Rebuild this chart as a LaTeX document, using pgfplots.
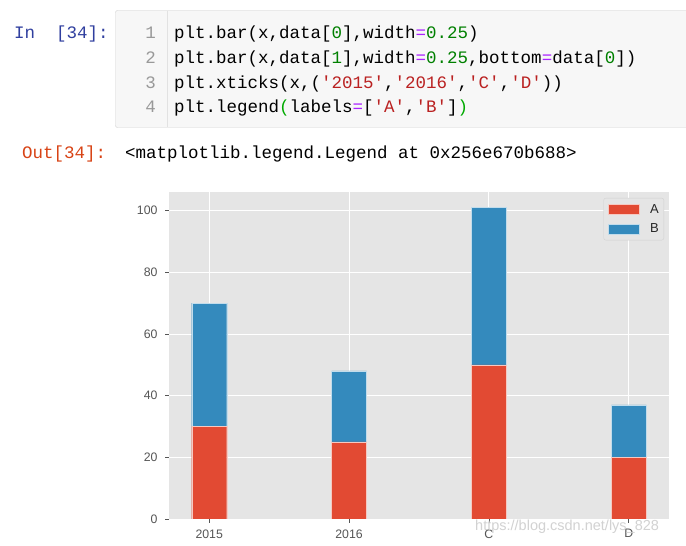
\documentclass[border=0pt]{standalone}
\usepackage{fontspec}
\setmainfont{Liberation Sans}
\newfontfamily\codefont{Liberation Mono}
\usepackage{pgfplots}
\pgfplotsset{compat=1.18}
\definecolor{barA}{HTML}{E24A33}
\definecolor{barB}{HTML}{348ABD}
\definecolor{axbg}{HTML}{E5E5E5}
\definecolor{tickc}{HTML}{555555}
\definecolor{codebg}{HTML}{F7F7F7}
\definecolor{codebd}{HTML}{CFCFCF}
\definecolor{inc}{HTML}{303F9F}
\definecolor{outc}{HTML}{D84315}
\definecolor{cnum}{HTML}{008000}
\definecolor{cop}{HTML}{AA22FF}
\definecolor{cstr}{HTML}{BA2121}
\definecolor{lnum}{HTML}{999999}
\definecolor{cbr}{HTML}{00AA00}
\begin{document}
\begin{tikzpicture}
\begin{scope}[x=1pt,y=1pt]
\fill[white] (0,0) rectangle (686,546);
\clip (0,0) rectangle (686,546);
\coordinate (axsw) at (169,27);
% code cell
\filldraw[fill=codebg, draw=codebd, rounded corners=2pt] (115.5,535.5) rectangle (700,418.5);
\draw[draw=codebd!60] (167.5,535) -- (167.5,419);
\node[anchor=base west, inner sep=0, text=inc, font=\codefont\fontsize{17.5}{20}\selectfont] at (14,507) {In\ \ [34]:};
\node[anchor=base west, inner sep=0, text=outc, font=\codefont\fontsize{17.5}{20}\selectfont] at (22,387) {Out[34]:};
\begin{scope}[every node/.style={anchor=base east, inner sep=0, text=lnum, font=\codefont\fontsize{17.5}{20}\selectfont}]
\node at (156,507) {1};
\node at (156,482) {2};
\node at (156,457) {3};
\node at (156,433) {4};
\end{scope}
\begin{scope}[every node/.style={anchor=base west, inner sep=0, text=black, font=\codefont\fontsize{17.5}{20}\selectfont}]
\node at (174,507) {plt.bar(x,data[\textcolor{cnum}{0}],width\textcolor{cop}{=}\textcolor{cnum}{0.25})};
\node at (174,482) {plt.bar(x,data[\textcolor{cnum}{1}],width\textcolor{cop}{=}\textcolor{cnum}{0.25},bottom\textcolor{cop}{=}data[\textcolor{cnum}{0}])};
\node at (174,457) {plt.xticks(x,(\textcolor{cstr}{'2015'},\textcolor{cstr}{'2016'},\textcolor{cstr}{'C'},\textcolor{cstr}{'D'}))};
\node at (174,433) {plt.legend\textcolor{cbr}{(}labels\textcolor{cop}{=}[\textcolor{cstr}{'A'},\textcolor{cstr}{'B'}]\textcolor{cbr}{)}};
\node at (125,387) {<matplotlib.legend.Legend at 0x256e670b688>};
\end{scope}
\end{scope}
% chart
\begin{axis}[
  at={(axsw)}, anchor=south west, scale only axis,
  width=500pt, height=327pt,
  xmin=-0.2875, xmax=3.2875, ymin=0, ymax=106.05,
  ybar stacked, bar width=35pt,
  axis background/.style={fill=axbg},
  axis line style={draw=none},
  xmajorgrids, ymajorgrids,
  major grid style={white, line width=0.9pt},
  xtick={0,1,2,3}, xticklabels={2015,2016,C,D},
  ytick={0,20,40,60,80,100},
  xtick pos=bottom, ytick pos=left, tick align=outside,
  major tick length=4pt,
  tick style={tickc, line width=0.7pt},
  ticklabel style={font=\fontsize{12.3}{14}\selectfont, text=tickc},
  xticklabel style={yshift=-3pt},
  yticklabel style={xshift=-4pt},
  /pgf/number format/assume math mode=true,
  legend style={at={(0.99,0.9817)}, anchor=north east, fill=axbg, draw=black!18,
    rounded corners=2pt, font=\fontsize{13}{14}\selectfont, text=black!85,
    row sep=7pt, inner xsep=4pt, inner ysep=5pt,
    nodes={inner sep=1pt}},
  legend image code/.code={\draw[#1, sharp corners] (0pt,-5pt) rectangle (31pt,5pt);
    \path (41pt,0pt);},
  legend cell align=left,
]
\addplot[fill=barA, draw=white!70!barA, line width=0.4pt] coordinates {(0,30) (1,25) (2,50) (3,20)};
\addplot[fill=barB, draw=white!70!barB, line width=0.4pt] coordinates {(0,40) (1,23) (2,51) (3,17)};
\legend{A,B}
\end{axis}
\begin{scope}[x=1pt,y=1pt]
\node[anchor=west, inner sep=0, text=gray!35, font=\fontsize{14.5}{16}\selectfont] at (475,19) {https://blog.csdn.net/lys\_828};
\end{scope}
\end{tikzpicture}
\end{document}
